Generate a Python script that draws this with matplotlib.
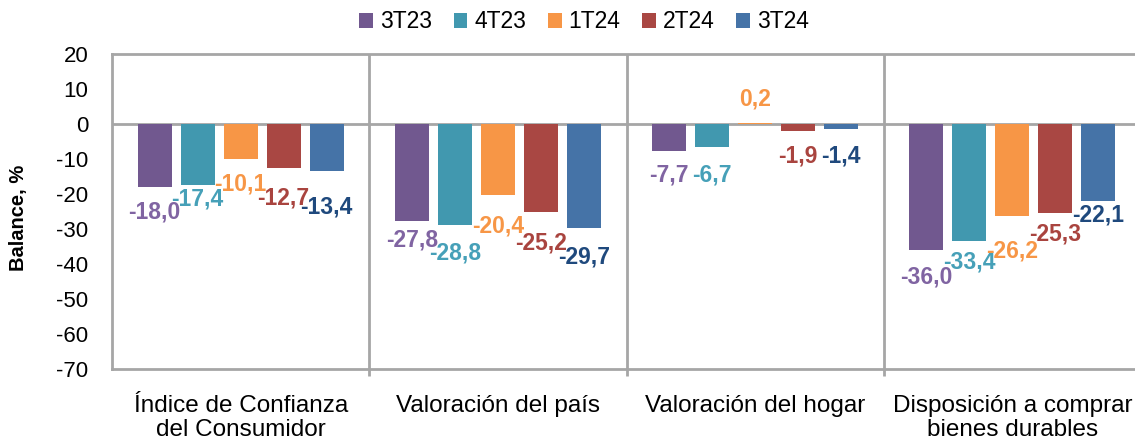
import matplotlib.pyplot as plt
from matplotlib.patches import Patch
from matplotlib.ticker import FixedLocator

plt.rcParams['font.family'] = ['Liberation Sans', 'DejaVu Sans']
plt.rcParams['axes.unicode_minus'] = False

categories = ["Índice de Confianza\ndel Consumidor", "Valoración del país",
              "Valoración del hogar", "Disposición a comprar\nbienes durables"]
series = ["3T23", "4T23", "1T24", "2T24", "3T24"]
s_3t23 = [-18.0, -27.8, -7.7, -36.0]
s_4t23 = [-17.4, -28.8, -6.7, -33.4]
s_1t24 = [-10.1, -20.4, 0.2, -26.2]
s_2t24 = [-12.7, -25.2, -1.9, -25.3]
s_3t24 = [-13.4, -29.7, -1.4, -22.1]
values = [s_3t23, s_4t23, s_1t24, s_2t24, s_3t24]

bar_colors = ["#71588F", "#4198AF", "#F79646", "#A94743", "#4573A7"]
label_colors = ["#8064A2", "#46A0B8", "#F79646", "#A9443F", "#1F497D"]

# how far (px) each label sits from the bar end, as dragged in the original
label_gap = [[25, 19, 24, 27],
             [14, 28, 28, 21],
             [25, 31, 24, 35],
             [30, 31, 25, 21],
             [36, 29, 27, 14]]

fig = plt.figure(figsize=(11.35, 4.43), dpi=100)
ax = fig.add_axes([112 / 1135, 1 - 369 / 443, 1029 / 1135, 315 / 443])

grey = "#A6A6A6"
width = 0.132
step = 0.167
for i, vals in enumerate(values):
    off = (i - 2) * step
    xs = [c + off for c in range(len(categories))]
    ax.bar(xs, vals, width, color=bar_colors[i], zorder=3)
    for j, v in enumerate(vals):
        dy = label_gap[i][j] if v >= 0 else -label_gap[i][j]
        txt = ("%.1f" % v).replace(".", ",")
        ax.annotate(txt, (xs[j], v), xytext=(0, dy * 0.72), textcoords="offset points",
                    ha="center", va="center", fontsize=16.5, fontweight="bold",
                    color=label_colors[i], zorder=5)

ax.set_xlim(-0.5, 3.5)
ax.set_ylim(-70, 20)
ax.set_yticks(range(-70, 21, 10))
ax.set_xticks(range(len(categories)))
ax.set_xticklabels(categories, fontsize=17.5, linespacing=1.08)
ax.xaxis.set_minor_locator(FixedLocator([0.5, 1.5, 2.5]))
ax.tick_params(axis="x", which="major", length=0, pad=19)
ax.tick_params(axis="x", which="minor", length=5, color=grey, width=2, direction="out")
ax.tick_params(axis="y", length=0, pad=17, labelsize=16)

for s in ax.spines.values():
    s.set_color(grey)
    s.set_linewidth(2)
ax.spines["right"].set_visible(False)
for xv in [0.5, 1.5, 2.5]:
    ax.axvline(xv, color=grey, lw=2, zorder=1)
ax.axhline(0, color=grey, lw=2, zorder=2)

ax.set_ylabel("Balance, %", fontsize=14.5, fontweight="bold")
ax.yaxis.set_label_coords(-0.082, 0.48)

handles = [Patch(facecolor=c) for c in bar_colors]
fig.legend(handles, series, loc="center", bbox_to_anchor=(584 / 1135, 1 - 22 / 443),
           ncol=5, frameon=False, fontsize=16.5, handlelength=0.6, handleheight=0.6,
           handletextpad=0.3, columnspacing=0.95)

fig.savefig("out.png", dpi=100)
